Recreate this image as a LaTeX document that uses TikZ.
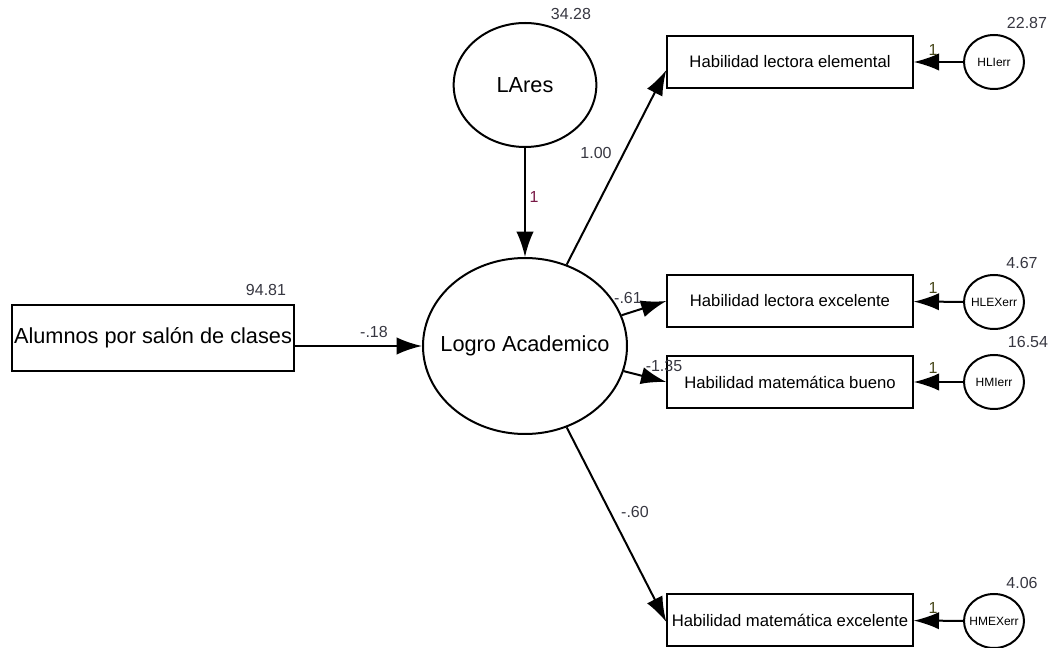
\documentclass[tikz,border=0pt]{standalone}
\usepackage{fontspec}
\setmainfont{Liberation Sans}
\usetikzlibrary{shapes.geometric,arrows.meta}
\definecolor{numgray}{RGB}{55,55,65}
\definecolor{oneolive}{RGB}{70,70,25}
\definecolor{onered}{RGB}{120,25,70}
\begin{document}
\begin{tikzpicture}[x=0.75pt,y=-0.75pt,line width=1.5pt,
latent/.style={ellipse, draw, inner sep=0pt, font=\fontsize{16.3}{18}\selectfont},
obs/.style={draw, rectangle, inner sep=0pt, minimum width=184pt, minimum height=39pt,
    font=\fontsize{12.5}{14}\selectfont},
err/.style={ellipse, draw, inner ysep=0pt, inner xsep=-4pt, minimum width=45pt, minimum height=40.5pt,
    font=\fontsize{9}{10}\selectfont},
num/.style={font=\fontsize{12}{14}\selectfont, text=numgray, inner sep=0pt},
reg/.style={-{Latex[length=19pt,width=13pt]}}]
\useasboundingbox (0,0) rectangle (1054,648);
\node[latent, minimum width=107pt, minimum height=93pt] (lares) at (525,85) {LAres};
\node[latent, inner xsep=-11pt, minimum width=153pt, minimum height=132pt] (logro) at (525,346) {Logro Academico};
\node[obs, minimum width=212pt, minimum height=50pt, font=\fontsize{16.3}{18}\selectfont]
    (alumnos) at (153,338) {Alumnos por salón de clases};
\node[obs] (hle) at (790,62) {Habilidad lectora elemental};
\node[obs] (hlex) at (790,301) {Habilidad lectora excelente};
\node[obs] (hmi) at (790,382) {Habilidad matemática bueno};
\node[obs] (hmex) at (790,620) {Habilidad matemática excelente};
\node[err] (hlierr) at (994,62) {HLIerr};
\node[err] (hlexerr) at (994,302) {HLEXerr};
\node[err] (hmierr) at (994,382) {HMIerr};
\node[err] (hmexerr) at (994,621) {HMEXerr};
\draw[reg] (lares) -- (logro);
\draw[reg] (alumnos.east |- logro) -- (logro);
\draw[reg] (logro) -- ([yshift=-6pt]hle.west);
\draw[reg] (logro) -- (hlex.west);
\draw[reg] (logro) -- (hmi.west);
\draw[reg] (logro) -- ([yshift=-1.5pt]hmex.west);
\draw[reg] (hlierr) -- (hle);
\draw[reg] (hlexerr) -- (hlex);
\draw[reg] (hmierr) -- (hmi);
\draw[reg] (hmexerr) -- (hmex);
\node[num] (v-lares) at (571,14) {34.28};
\node[num] (v-alumnos) at (266,290) {94.81};
\node[num] (v-hlierr) at (1027,23) {22.87};
\node[num] (v-hlexerr) at (1022,263) {4.67};
\node[num] (v-hmierr) at (1028,342) {16.54};
\node[num] (v-hmexerr) at (1022,583) {4.06};
\node[num] (w-alumnos) at (374,332) {-.18};
\node[num, text=onered] (w-lares) at (534,197) {1};
\node[num] (w-hle) at (596,153) {1.00};
\node[num] (w-hlex) at (628,298) {-.61};
\node[num] (w-hmi) at (664,366) {-1.35};
\node[num] (w-hmex) at (635,512) {-.60};
\node[num, text=oneolive] (e-hle) at (933,50) {1};
\node[num, text=oneolive] (e-hlex) at (933,288) {1};
\node[num, text=oneolive] (e-hmi) at (933,368) {1};
\node[num, text=oneolive] (e-hmex) at (933,608) {1};
\end{tikzpicture}
\end{document}
